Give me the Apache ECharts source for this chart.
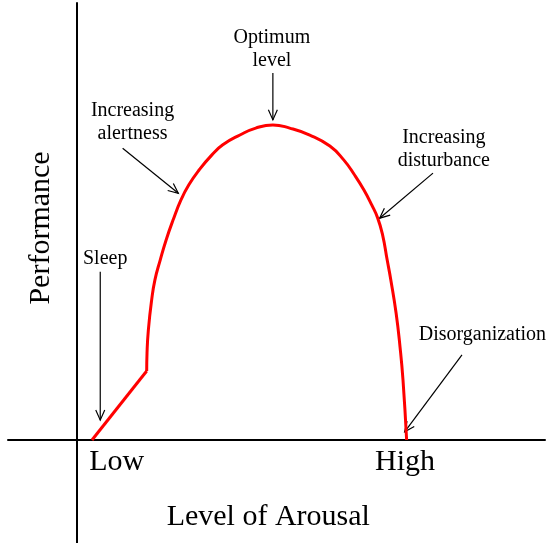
<!DOCTYPE html>
<html lang="en">
<head>
    <meta charset="UTF-8">
    <title>Arousal and performance</title>
    <script src="https://cdn.jsdelivr.net/npm/echarts@6/dist/echarts.min.js"></script>
    <style>
        html, body { margin: 0; padding: 0; background: #fff; }
        #chart { width: 550px; height: 543px; }
    </style>
</head>
<body>
    <div id="chart"></div>
    <script>
        // level of arousal (x) vs performance (y), arbitrary units
        const sleepX = [0.45, 2.11];
        const sleepY = [0, 2.19];
        const curveX = [2.11, 2.12, 2.16, 2.26, 2.36, 2.52, 2.70, 2.91, 3.15, 3.39, 3.70, 4.09, 4.42, 4.94, 5.42, 5.94,
            6.45, 7.06, 7.67, 8.09, 8.42, 8.70, 8.94, 9.12, 9.27, 9.41, 9.52, 9.68, 9.80, 9.89, 10.0];
        const curveY = [2.19, 2.76, 3.49, 4.44, 5.08, 5.71, 6.35, 6.98, 7.62, 8.10, 8.57, 9.05, 9.37, 9.68, 9.90, 10.0,
            9.90, 9.68, 9.33, 8.89, 8.41, 7.94, 7.46, 7.05, 6.51, 5.71, 5.08, 4.03, 2.95, 1.90, 0];

        // x axis tick labels
        const tickValues = [1.2, 9.95];
        const tickLabels = ['Low', 'High'];

        // annotation text: lines and their centre (data units)
        const noteText = [
            ['Optimum', 'level'],
            ['Increasing', 'alertness'],
            ['Increasing', 'disturbance'],
            ['Sleep'],
            ['Disorganization']
        ];
        const noteAt = [[5.91, 12.41], [1.68, 10.10], [11.13, 9.24], [0.85, 5.75], [12.30, 3.34]];
        // arrows: from -> to
        const arrowFrom = [[5.94, 11.65], [1.38, 9.26], [10.80, 8.47], [0.70, 5.34], [11.68, 2.70]];
        const arrowTo = [[5.94, 10.16], [3.07, 7.83], [9.18, 7.04], [0.70, 0.63], [9.94, 0.26]];

        const serif = '"Liberation Serif", "Times New Roman", serif';

        const chart = echarts.init(document.getElementById('chart'));

        const option = {
            animation: false,
            grid: { left: 8, right: 5, top: 3, bottom: 0, containLabel: false, outerBoundsMode: 'none' },
            xAxis: {
                type: 'value',
                min: -2.1,
                max: 14.2,
                axisLine: { onZero: true, lineStyle: { color: '#000', width: 2 } },
                axisTick: { show: false },
                splitLine: { show: false },
                axisLabel: { show: false }
            },
            yAxis: {
                type: 'value',
                min: -3.27,
                max: 13.87,
                axisLine: { onZero: true, lineStyle: { color: '#000', width: 2 } },
                axisTick: { show: false },
                splitLine: { show: false },
                axisLabel: { show: false }
            },
            series: [
                {
                    name: 'sleep',
                    type: 'line',
                    data: sleepX.map((x, i) => [x, sleepY[i]]),
                    showSymbol: false,
                    lineStyle: { color: '#ff0000', width: 3 }
                },
                {
                    name: 'performance',
                    type: 'line',
                    smooth: 0.5,
                    data: curveX.map((x, i) => [x, curveY[i]]),
                    showSymbol: false,
                    lineStyle: { color: '#ff0000', width: 3 }
                }
            ]
        };
        chart.setOption(option);

        // annotations, tick labels and axis titles, placed from data units
        function px(p) {
            return chart.convertToPixel({ gridIndex: 0 }, p);
        }

        function label(text, at, size, extra) {
            const c = px(at);
            return Object.assign({
                type: 'text',
                x: c[0],
                y: c[1],
                style: {
                    text: text,
                    font: size + 'px ' + serif,
                    lineHeight: 23,
                    fill: '#000',
                    align: 'center',
                    verticalAlign: 'middle'
                }
            }, extra || {});
        }

        const graphics = [];
        noteText.forEach(function (lines, i) {
            graphics.push(label(lines.join('\n'), noteAt[i], 20));
        });

        arrowFrom.forEach(function (from, i) {
            const a = px(from);
            const b = px(arrowTo[i]);
            const ang = Math.atan2(b[1] - a[1], b[0] - a[0]);
            const len = 11, spread = 0.42;
            const p1 = [b[0] - len * Math.cos(ang - spread), b[1] - len * Math.sin(ang - spread)];
            const p2 = [b[0] - len * Math.cos(ang + spread), b[1] - len * Math.sin(ang + spread)];
            graphics.push({
                type: 'line',
                shape: { x1: a[0], y1: a[1], x2: b[0], y2: b[1] },
                style: { stroke: '#000', lineWidth: 1.2 }
            });
            graphics.push({
                type: 'polyline',
                shape: { points: [p1, b, p2] },
                style: { stroke: '#000', lineWidth: 1.2, fill: null }
            });
        });

        tickValues.forEach(function (v, i) {
            graphics.push(label(tickLabels[i], [v, -0.7], 30));
        });

        graphics.push(label('Level of Arousal', [5.8, -2.45], 30));
        graphics.push(label('Performance', [-1.1, 6.73], 30, { rotation: Math.PI / 2 }));

        chart.setOption({ graphic: graphics });
    </script>
</body>
</html>
